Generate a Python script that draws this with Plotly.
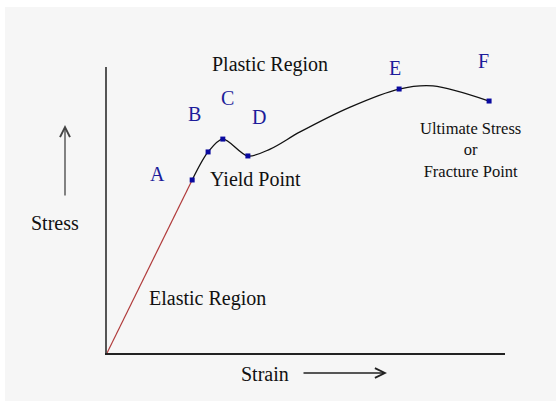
import plotly.graph_objects as go

# ---- data (arbitrary units: strain 0-100, stress 0-100) ----
elastic_strain = [0.0, 21.4]
elastic_stress = [0.0, 60.5]
plastic_strain = [21.4, 25.4, 29.1, 35.4, 41.0, 48.5, 61.1, 73.4, 81.9, 96.0]
plastic_stress = [60.5, 70.3, 74.8, 68.9, 71.3, 77.3, 86.0, 92.3, 93.4, 88.1]
point_labels = ["A", "B", "C", "D", "E", "F"]
point_strain = [21.4, 25.4, 29.1, 35.4, 73.4, 96.0]
point_stress = [60.5, 70.3, 74.8, 68.9, 92.3, 88.1]

W, H = 556, 401
L, R, T, B = 107, 505, 67, 353  # plot area in pixels


def px(x):
    return (x - L) / (R - L)


def py(y):
    return (B - y) / (B - T)


SERIF = "Liberation Serif, Times New Roman, serif"
BLUE = "#1c1c9a"

fig = go.Figure()
fig.add_trace(go.Scatter(x=elastic_strain, y=elastic_stress, mode="lines",
                         line=dict(color="#b03a3a", width=1.2), hoverinfo="skip"))
fig.add_trace(go.Scatter(x=plastic_strain, y=plastic_stress, mode="lines",
                         line=dict(color="#111111", width=1.3, shape="spline", smoothing=0.9),
                         hoverinfo="skip"))
fig.add_trace(go.Scatter(x=point_strain, y=point_stress, mode="markers",
                         marker=dict(symbol="square", size=5, color="#0a0aa0"),
                         hoverinfo="skip"))

# letter label offsets (pixels)
offsets = [(-35, 6), (-14, 38), (5, 41), (11, 39), (-4, 21), (-6, 40)]
annotations = []
for lab, xs, ys, (dx, dy) in zip(point_labels, point_strain, point_stress, offsets):
    annotations.append(dict(x=xs, y=ys, xref="x", yref="y", text=lab, showarrow=False,
                            xshift=dx, yshift=dy,
                            font=dict(family=SERIF, size=20, color=BLUE)))

texts = [
    ("Plastic Region", 270, 64, 20),
    ("Yield Point", 255, 179, 20),
    ("Elastic Region", 207, 298, 20),
    ("Ultimate Stress<br>or<br>Fracture Point", 470, 150, 16.5),
    ("Stress", 55, 223, 20),
    ("Strain", 265, 374, 20),
]
for t, x, y, s in texts:
    annotations.append(dict(x=px(x), y=py(y), xref="paper", yref="paper", text=t,
                            showarrow=False, xanchor="center", yanchor="middle",
                            font=dict(family=SERIF, size=s, color="#111111")))

# arrows
annotations.append(dict(x=px(65), y=py(125), xref="paper", yref="paper", text="",
                        showarrow=True, ax=0, ay=72, arrowhead=5, arrowsize=1.5,
                        arrowwidth=1.3, arrowcolor="#444444"))
annotations.append(dict(x=px(387), y=py(373), xref="paper", yref="paper", text="",
                        showarrow=True, ax=-85, ay=0, arrowhead=5, arrowsize=1.5,
                        arrowwidth=1.3, arrowcolor="#222222"))

fig.update_layout(
    width=W, height=H,
    margin=dict(l=L, r=W - R, t=T, b=H - B, pad=0),
    paper_bgcolor="white",
    plot_bgcolor="rgba(0,0,0,0)",
    showlegend=False,
    annotations=annotations,
    shapes=[dict(type="rect", xref="paper", yref="paper", x0=px(5), x1=px(560),
                 y0=py(7), y1=py(405), fillcolor="#f6f6f6", line=dict(width=0),
                 layer="below")],
    xaxis=dict(range=[0, 100], showgrid=False, zeroline=False, showticklabels=False,
               ticks="", showline=True, linecolor="#222222", linewidth=2, fixedrange=True),
    yaxis=dict(range=[0, 100], showgrid=False, zeroline=False, showticklabels=False,
               ticks="", showline=True, linecolor="#555555", linewidth=2, fixedrange=True),
)

fig.write_html("out.html", config={"displayModeBar": False},
               post_script="document.body.style.margin='0';document.body.style.overflow='hidden';")
